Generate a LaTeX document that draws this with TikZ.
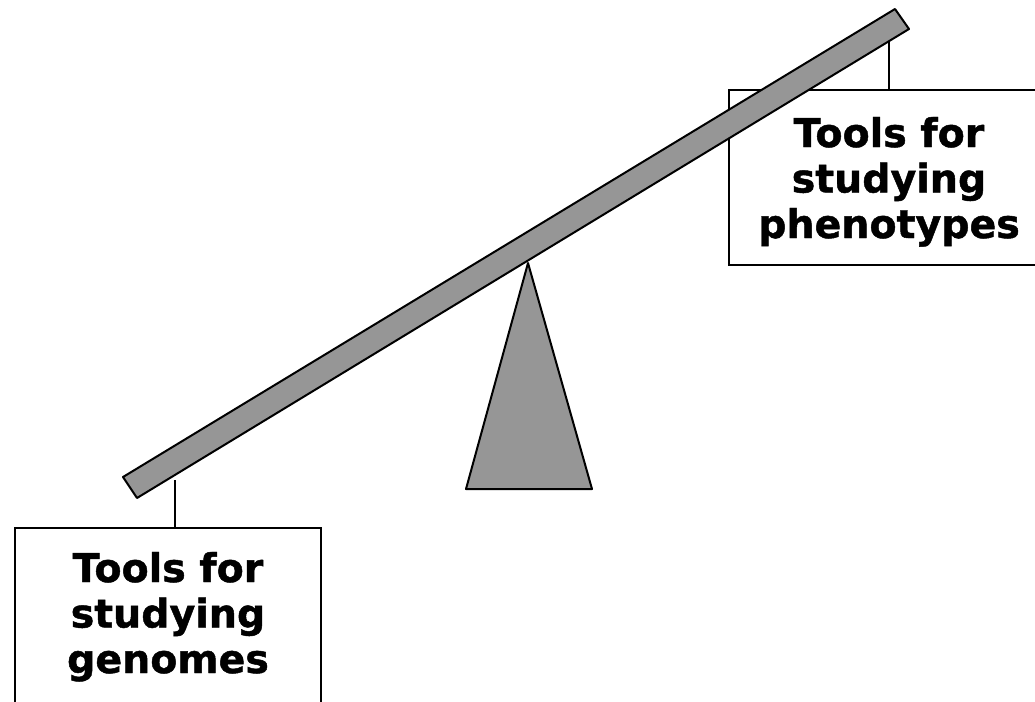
\documentclass[tikz,border=0pt]{standalone}
\usepackage{fontspec}
\setmainfont{DejaVu Sans}
\newfontfamily\labelfont{DejaVu Sans Bold}[FakeBold=1.2]
\definecolor{beamgray}{RGB}{150,150,150}
\begin{document}
\begin{tikzpicture}[x=1pt,y=-1pt,
  boxline/.style={draw=black,line width=1.3pt},
  solid shape/.style={draw=black,line width=2pt,fill=beamgray,line join=round},
  tie/.style={draw=black,line width=1.3pt},
  label/.style={font=\labelfont\fontsize{39.5}{45.5}\selectfont,align=center,inner sep=0pt}]
\useasboundingbox (0,0) rectangle (1035,701);
\clip (0,0) rectangle (1035,701);
% boxes
\draw[boxline] (15,760) -- (15,528) -- (321,528) -- (321,760);
\draw[boxline] (1060,90) -- (729,90) -- (729,265) -- (1060,265);
\node[label,anchor=base] (gen) at (168,673) {Tools for\\studying\\genomes};
\node[label,anchor=base] (phe) at (889,238) {Tools for\\studying\\phenotypes};
% connector coordinates
\coordinate (ltop) at (175,480);
\coordinate (lbot) at (175,528);
\coordinate (rtop) at (889,40);
\coordinate (rbot) at (889,90);
\draw[tie] (ltop) -- (lbot);
\draw[tie] (rtop) -- (rbot);
% fulcrum
\coordinate (apex) at (528,263);
\coordinate (bl) at (466,489);
\coordinate (br) at (592,489);
\draw[solid shape] (apex) -- (br) -- (bl) -- cycle;
% beam
\coordinate (A) at (123,477);
\coordinate (B) at (137,498);
\coordinate (C) at (895,9);
\coordinate (D) at (909,29);
\draw[solid shape] (A) -- (C) -- (D) -- (B) -- cycle;
\end{tikzpicture}
\end{document}
